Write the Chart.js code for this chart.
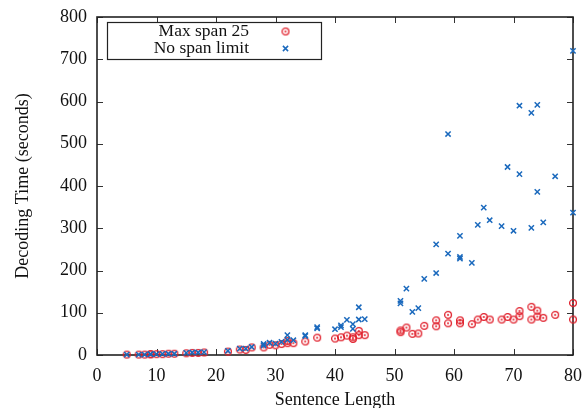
<!DOCTYPE html>
<html><head><meta charset="utf-8">
<script src="https://cdn.jsdelivr.net/npm/chart.js@4/dist/chart.umd.min.js"></script>
<style>html,body{margin:0;padding:0;background:#fff}</style>
</head><body>
<canvas id="c" width="586" height="408"></canvas>
<script>
// ---- data ----
const seriesLabels = ["Max span 25", "No span limit"];
const spanX = [5,7,8,9,9,10,11,12,13,15,16,17,18,22,24,25,26,28,29,30,31,32,32,33,35,37,40,41,42,43,43,44,44,45,51,51,52,53,54,55,57,57,59,59,61,61,63,64,65,66,68,69,70,71,71,73,73,74,74,75,77,80,80];
const spanY = [1,1,1,1.5,2,2,2,3,3,4,5,5,6,8,13,12,18,18,24,23,26,28,33,28,32,41,39,42,46,42,38,57,47,47,54,58,65,50,51,69,82,68,95,75,82,75,73,84,90,84,84,90,84,104,92,114,84,105,91,88,95,123,84];
const freeX = [5,7,8,9,9,10,11,12,13,15,16,17,18,22,24,25,26,28,28,29,30,31,32,32,33,35,35,37,37,40,41,41,42,43,43,44,44,45,51,51,52,53,54,55,57,57,59,59,61,61,61,63,64,65,66,68,69,70,71,71,73,73,74,74,75,77,80,80];
const freeY = [1,1,1,2,2,2,2.5,3,3,5,6,6,7,10,15,15,19,22,26,29,27,31,47,36,35,45,47,63,66,61,66,70,83,73,62,113,84,85,122,128,157,102,111,180,194,262,240,523,282,228,232,218,308,349,319,305,445,294,590,428,301,573,592,386,314,423,720,337];
const xTickValues = [0,10,20,30,40,50,60,70,80];
const yTickValues = [0,100,200,300,400,500,600,700,800];
const xTitle = "Sentence Length";
const yTitle = "Decoding Time (seconds)";

const RED = '#e01e2a';
const BLUE = '#1a69bd';
const FONT = "'Liberation Serif', 'DejaVu Serif', serif";

function circleDot(color){
  const c = document.createElement('canvas'); c.width = 10; c.height = 10;
  const g = c.getContext('2d');
  g.strokeStyle = color; g.lineWidth = 1.3;
  g.beginPath(); g.arc(5,5,3.4,0,Math.PI*2); g.stroke();
  g.fillStyle = color; g.beginPath(); g.arc(5,5,1,0,Math.PI*2); g.fill();
  return c;
}
const redMarker = circleDot(RED);

function drawCross(ctx, x, y, h, color){
  ctx.save(); ctx.strokeStyle = color; ctx.lineWidth = 1.5;
  ctx.beginPath();
  ctx.moveTo(x-h,y-h); ctx.lineTo(x+h,y+h);
  ctx.moveTo(x-h,y+h); ctx.lineTo(x+h,y-h);
  ctx.stroke(); ctx.restore();
}

const framePlugin = {
  id: 'frame',
  beforeDatasetsDraw(chart){
    const {ctx, chartArea:a, scales:{x, y}} = chart;
    ctx.save();
    ctx.strokeStyle = '#333'; ctx.lineWidth = 1;
    ctx.beginPath();
    x.ticks.forEach(t => {
      const px = Math.round(x.getPixelForValue(t.value)) + 0.5;
      ctx.moveTo(px, a.bottom); ctx.lineTo(px, a.bottom - 6);
      ctx.moveTo(px, a.top); ctx.lineTo(px, a.top + 6);
    });
    y.ticks.forEach(t => {
      const py = Math.round(y.getPixelForValue(t.value)) + 0.5;
      ctx.moveTo(a.left, py); ctx.lineTo(a.left + 6, py);
      ctx.moveTo(a.right, py); ctx.lineTo(a.right - 6, py);
    });
    ctx.stroke();
    ctx.strokeStyle = '#222'; ctx.lineWidth = 1.6;
    ctx.strokeRect(a.left, a.top, a.right - a.left, a.bottom - a.top);
    ctx.restore();
  },
  afterDraw(chart){
    const ctx = chart.ctx;
    ctx.save();
    ctx.strokeStyle = '#222'; ctx.lineWidth = 1.2;
    ctx.strokeRect(107.5, 22.5, 214, 37);
    ctx.font = '17.5px ' + FONT;
    ctx.fillStyle = '#111'; ctx.textAlign = 'right'; ctx.textBaseline = 'middle';
    ctx.fillText(chart.data.datasets[0].label, 249, 31.5);
    ctx.fillText(chart.data.datasets[1].label, 249, 48.5);
    ctx.drawImage(redMarker, 285.5 - 5, 31.5 - 5);
    drawCross(ctx, 285.5, 48.5, 2.6, BLUE);
    ctx.restore();
  }
};

new Chart(document.getElementById('c'), {
  type: 'scatter',
  data: {
    datasets: [
      { label: seriesLabels[0], data: spanX.map((v,i)=>({x:v, y:spanY[i]})),
        pointStyle: redMarker, pointRadius: 4, borderColor: RED, backgroundColor: RED, order: 1, clip: false },
      { label: seriesLabels[1], data: freeX.map((v,i)=>({x:v, y:freeY[i]})),
        pointStyle: 'crossRot', pointRadius: 3.7, pointBorderWidth: 1.5, borderColor: BLUE, backgroundColor: BLUE, order: 0, clip: false }
    ]
  },
  options: {
    responsive: false, animation: false, devicePixelRatio: 1,
    layout: { padding: { top: 17, right: 13, left: 0, bottom: 0 } },
    plugins: { legend: { display: false }, tooltip: { enabled: false } },
    scales: {
      x: {
        type: 'linear', min: 0, max: 80,
        afterBuildTicks: s => { s.ticks = xTickValues.map(v => ({value: v})); },
        afterFit: s => { s.height = 53; s.paddingLeft = 0; s.paddingRight = 0; },
        grid: { display: false, drawTicks: false },
        border: { display: false },
        ticks: { padding: 10, color: '#111', font: { family: FONT, size: 18 }, maxRotation: 0 },
        title: { display: true, text: xTitle, color: '#111', font: { family: FONT, size: 18 }, padding: { top: 0, bottom: -3 } }
      },
      y: {
        type: 'linear', min: 0, max: 800,
        afterBuildTicks: s => { s.ticks = yTickValues.map(v => ({value: v})); },
        afterFit: s => { s.width = 97; s.paddingTop = 0; s.paddingBottom = 0; },
        grid: { display: false, drawTicks: false },
        border: { display: false },
        ticks: { padding: 10, color: '#111', font: { family: FONT, size: 18 } },
        title: { display: true, text: yTitle, color: '#111', font: { family: FONT, size: 18 }, padding: { top: 12, bottom: 0 } }
      }
    }
  },
  plugins: [framePlugin]
});
</script>
</body></html>
